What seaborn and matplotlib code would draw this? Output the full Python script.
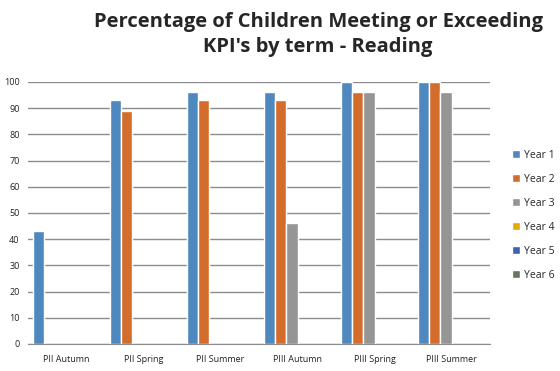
import numpy as np
import pandas as pd
import matplotlib
matplotlib.use("Agg")
import matplotlib.pyplot as plt
import seaborn as sns
from matplotlib.patches import Patch

terms = ["PII Autumn", "PII Spring", "PII Summer", "PIII Autumn", "PIII Spring", "PIII Summer"]
years = ["Year 1", "Year 2", "Year 3", "Year 4", "Year 5", "Year 6"]
year1 = [43, 93, 96, 96, 100, 100]
year2 = [np.nan, 89, 93, 93, 96, 100]
year3 = [np.nan, np.nan, np.nan, 46, 96, 96]
year4 = [np.nan] * 6
year5 = [np.nan] * 6
year6 = [np.nan] * 6
colors = ["#4F88BF", "#D46D2B", "#959595", "#E0A800", "#3E63AE", "#6A7463"]

rows = []
for yr, vals in zip(years, [year1, year2, year3, year4, year5, year6]):
    for t, v in zip(terms, vals):
        rows.append({"term": t, "year": yr, "pct": v})
df = pd.DataFrame(rows)

sns.set_style("white")
plt.rcParams["font.family"] = ["Open Sans", "DejaVu Sans"]

fig = plt.figure(figsize=(5.6, 3.71), dpi=100)
ax = fig.add_axes([0.05, 0.073, 0.825, 0.706])

sns.barplot(data=df, x="term", y="pct", hue="year", order=terms, hue_order=years,
            palette=colors, width=0.86, saturation=1, ax=ax, legend=False,
            errorbar=None)

ax.set_ylim(0, 100)
ax.set_yticks(range(0, 101, 10))
ax.set_xlim(-0.5, 5.5)
ax.yaxis.grid(True, color="#8c8c8c", linewidth=1)
ax.set_axisbelow(True)
for s in ["top", "right", "left"]:
    ax.spines[s].set_visible(False)
ax.spines["bottom"].set_color("#8c8c8c")
ax.tick_params(axis="both", length=0, labelsize=6.5, colors="#222222")
ax.tick_params(axis="x", pad=8)
ax.tick_params(axis="y", pad=6)
ax.set_xlabel("")
ax.set_ylabel("")

handles = [Patch(facecolor=c, label=y) for c, y in zip(colors, years)]
fig.legend(handles=handles, loc="center left", bbox_to_anchor=(0.898, 0.42),
           frameon=False, fontsize=7.5, handlelength=0.7, handleheight=0.7,
           handletextpad=0.4, labelspacing=1.25)

fig.text(0.568, 0.908, "Percentage of Children Meeting or Exceeding\nKPI's by term - Reading",
         ha="center", va="center", fontsize=14.5, fontweight="bold", linespacing=1.35)

fig.savefig("out.png", dpi=100)
